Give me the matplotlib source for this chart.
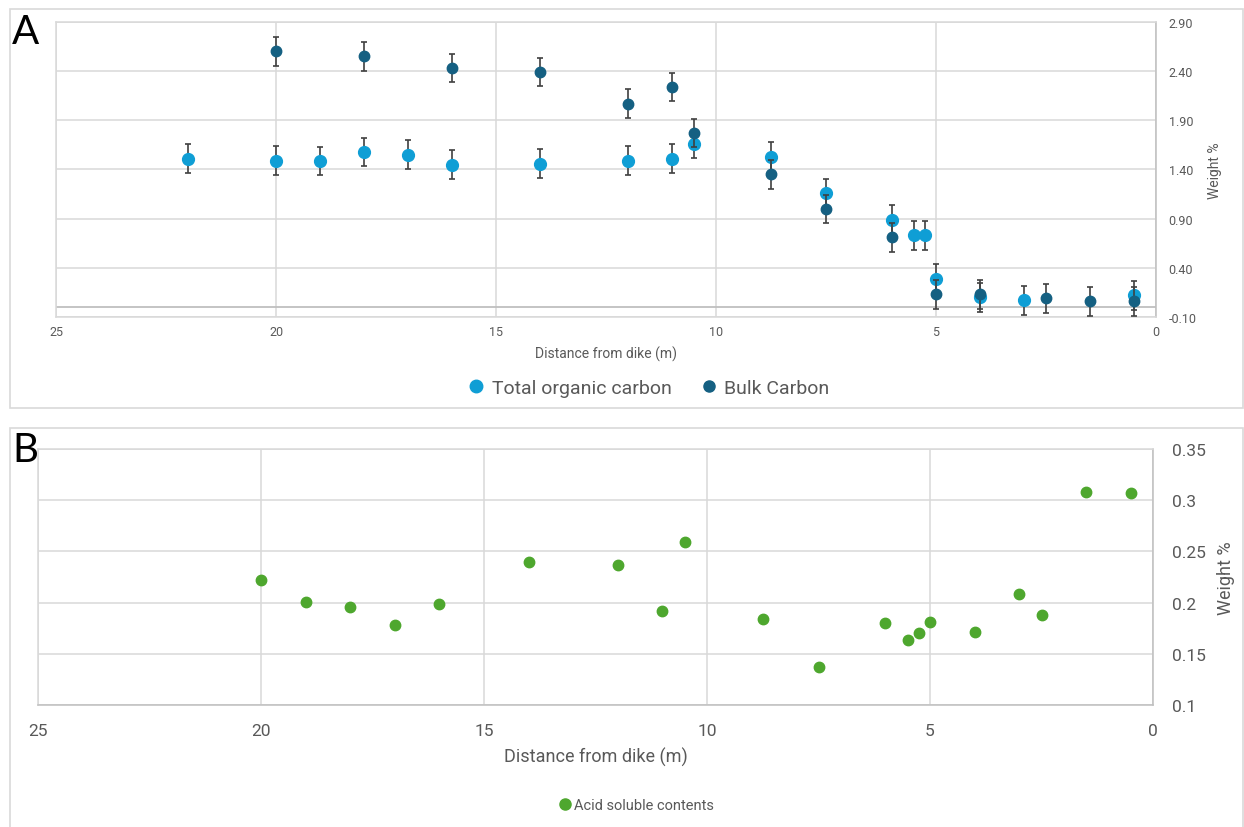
import matplotlib.pyplot as plt
from matplotlib.patches import Rectangle
from matplotlib.lines import Line2D

plt.rcParams['font.family'] = ['Roboto', 'DejaVu Sans']

# Panel A: carbon contents vs distance from dike
toc_dist = [22, 20, 19, 18, 17, 16, 14, 12, 11, 10.5, 8.75, 7.5, 6, 5.5, 5.25, 5, 4, 3, 0.5]
toc_wt = [1.51, 1.49, 1.485, 1.58, 1.55, 1.45, 1.46, 1.49, 1.51, 1.66, 1.53, 1.16, 0.89,
          0.73, 0.73, 0.29, 0.10, 0.07, 0.12]
bulk_dist = [20, 18, 16, 14, 12, 11, 10.5, 8.75, 7.5, 6, 5, 4, 2.5, 1.5, 0.5]
bulk_wt = [2.60, 2.55, 2.43, 2.39, 2.07, 2.24, 1.77, 1.35, 1.00, 0.71, 0.13, 0.13, 0.09,
           0.06, 0.06]
err_a = 0.145

# Panel B: acid soluble contents
acid_dist = [20, 19, 18, 17, 16, 14, 12, 11, 10.5, 8.75, 7.5, 6, 5.5, 5.25, 5, 4, 3, 2.5,
             1.5, 0.5]
acid_wt = [0.222, 0.201, 0.196, 0.178, 0.199, 0.240, 0.237, 0.192, 0.259, 0.184, 0.137,
           0.180, 0.163, 0.170, 0.181, 0.171, 0.208, 0.188, 0.308, 0.307]

x_ticks = [25, 20, 15, 10, 5, 0]
ya_ticks = [-0.10, 0.40, 0.90, 1.40, 1.90, 2.40, 2.90]
yb_ticks = [0.1, 0.15, 0.2, 0.25, 0.3, 0.35]

c_toc = '#0F9ED5'
c_bulk = '#156082'
c_acid = '#4EA72E'
c_text = '#595959'
c_grid = '#D9D9D9'

W, H = 1244, 828
fig = plt.figure(figsize=(W / 100, H / 100), dpi=100)


def frac(x0, y0, x1, y1):
    return [x0 / W, 1 - y1 / H, (x1 - x0) / W, (y1 - y0) / H]


# panel frames
for (x0, y0, x1, y1) in [(10, 10, 1243, 409), (10, 429, 1243, 830)]:
    fig.patches.append(Rectangle((x0 / W, 1 - y1 / H), (x1 - x0) / W, (y1 - y0) / H,
                                 transform=fig.transFigure, fill=False,
                                 edgecolor=c_grid, lw=1.2))

fig.text(12 / W, 1 - 44 / H, 'A', fontsize=29, family='Lato', color='black')
fig.text(12 / W, 1 - 462 / H, 'B', fontsize=29, family='Lato', color='black')


def style_axes(ax, tick_size, xpad, ypad):
    ax.set_xlim(25, 0)
    ax.set_xticks(x_ticks)
    ax.yaxis.tick_right()
    ax.yaxis.set_label_position('right')
    ax.grid(True, color=c_grid, lw=1.1)
    ax.set_axisbelow(True)
    for s in ax.spines.values():
        s.set_color(c_grid)
        s.set_linewidth(1.1)
    ax.spines['right'].set_color('#BFBFBF')
    ax.tick_params(length=0, labelsize=tick_size, labelcolor=c_text)
    ax.tick_params(axis='x', pad=xpad)
    ax.tick_params(axis='y', pad=ypad)


# ---- panel A ----
axa = fig.add_axes(frac(56, 23, 1156, 318))
style_axes(axa, 9, 6, 9)
axa.set_ylim(-0.1, 2.9)
axa.set_yticks(ya_ticks)
axa.set_yticklabels([f'{v:.2f}' for v in ya_ticks])
axa.axhline(0, color='#BFBFBF', lw=1.3, zorder=1)
axa.errorbar(toc_dist, toc_wt, yerr=err_a, fmt='o', ms=8.5, color=c_toc,
             ecolor='#404040', elinewidth=1.2, capsize=2, capthick=1.2, zorder=3)
axa.errorbar(bulk_dist, bulk_wt, yerr=err_a, fmt='o', ms=7.5, color=c_bulk,
             ecolor='#404040', elinewidth=1.2, capsize=2, capthick=1.2, zorder=4)
axa.set_xlabel('Distance from dike (m)', fontsize=10, color=c_text, labelpad=5)
axa.set_ylabel('Weight %', fontsize=10, color=c_text, labelpad=8)

handles_a = [Line2D([], [], marker='o', ls='', ms=9, color=c_toc),
             Line2D([], [], marker='o', ls='', ms=8, color=c_bulk)]
fig.legend(handles_a, ['Total organic carbon', 'Bulk Carbon'], loc='center',
           bbox_to_anchor=(648 / W, 1 - 389 / H), ncol=2, frameon=False,
           fontsize=14, labelcolor=c_text, handletextpad=0.3, columnspacing=1.4,
           handlelength=1.0)

# ---- panel B ----
axb = fig.add_axes(frac(38, 450, 1153, 706))
style_axes(axb, 12.5, 13, 14)
axb.set_ylim(0.1, 0.35)
axb.set_yticks(yb_ticks)
axb.set_yticklabels([f'{v:g}' for v in yb_ticks])
axb.spines['bottom'].set_color('#BFBFBF')
axb.plot(acid_dist, acid_wt, 'o', ms=7.5, color=c_acid, zorder=3)
axb.set_xlabel('Distance from dike (m)', fontsize=13, color=c_text, labelpad=6)
axb.set_ylabel('Weight %', fontsize=13, color=c_text, labelpad=8)

handles_b = [Line2D([], [], marker='o', ls='', ms=8, color=c_acid)]
fig.legend(handles_b, ['Acid soluble contents'], loc='center',
           bbox_to_anchor=(636 / W, 1 - 806 / H), frameon=False,
           fontsize=10.5, labelcolor=c_text, handletextpad=0.1, handlelength=1.0)

fig.savefig('out.png', dpi=100, facecolor='white')
